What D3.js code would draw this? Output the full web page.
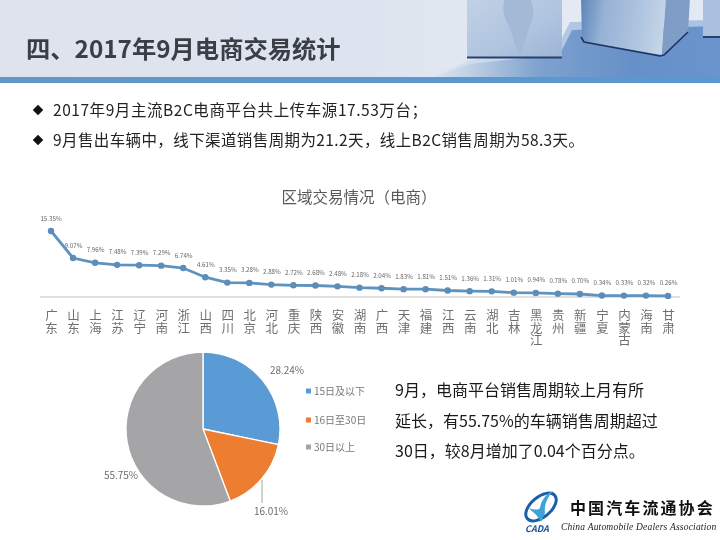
<!DOCTYPE html>
<html>
<head>
<meta charset="utf-8">
<script src="https://cdn.jsdelivr.net/npm/d3@7/dist/d3.min.js"></script>
<style>
html, body { margin: 0; padding: 0; background: #fff; }
svg { display: block; filter: blur(0.35px); }
text { font-family: "Noto Sans CJK SC", "Noto Sans", sans-serif; }
</style>
</head>
<body>
<div id="chart"></div>
<script>
var provinces = ["广东","山东","上海","江苏","辽宁","河南","浙江","山西","四川","北京","河北","重庆","陕西","安徽","湖南","广西","天津","福建","江西","云南","湖北","吉林","黑龙江","贵州","新疆","宁夏","内蒙古","海南","甘肃"];
var shares = [15.35,9.07,7.96,7.48,7.39,7.29,6.74,4.61,3.35,3.28,2.88,2.72,2.68,2.48,2.18,2.04,1.83,1.81,1.51,1.36,1.31,1.01,0.94,0.78,0.70,0.34,0.33,0.32,0.26];
var cycleNames = ["15日及以下","16日至30日","30日以上"];
var cycleValues = [28.24,16.01,55.75];
var cycleColors = ["#5b9bd5","#ed7d31","#a5a4a6"];
var bullets = ["2017年9月主流B2C电商平台共上传车源17.53万台；","9月售出车辆中，线下渠道销售周期为21.2天，线上B2C销售周期为58.3天。"];
var notes = ["9月，电商平台销售周期较上月有所","延长，有55.75%的车辆销售周期超过","30日，较8月增加了0.04个百分点。"];

var svg = d3.select("#chart").append("svg")
	.attr("width", 720)
	.attr("height", 540);
var defs = svg.append("defs");

drawHeader();
drawBullets();
drawLineChart();
drawPie();
drawNotes();
drawLogo();

function addGradient(id, x2, y2, stops) {
	var g = defs.append("linearGradient")
		.attr("id", id)
		.attr("x1", 0).attr("y1", 0)
		.attr("x2", x2).attr("y2", y2);
	stops.forEach(function(s){
		g.append("stop").attr("offset", s[0]).attr("stop-color", s[1]);
	});
}

function drawHeader() {
	addGradient("headBg", 1, 0, [[0,"#dee3ee"],[0.5,"#dee4ef"],[0.75,"#e3eaf3"],[1,"#e3e9f3"]]);
	addGradient("floorBg", 1, 0, [[0,"#dfe5ef"],[0.12,"#c3d3e6"],[0.38,"#7ea1cf"],[0.7,"#6690c8"],[1,"#6a94cb"]]);
	addGradient("boxA", 1, 1, [[0,"#c2d2e6"],[0.6,"#afc4df"],[1,"#9cb5d6"]]);
	addGradient("boxFront", 1, 0.1, [[0,"#5c85ba"],[0.3,"#97b2d5"],[0.75,"#b1c6e0"],[1,"#c4d4e8"]]);
	addGradient("bar", 1, 0, [[0,"#6098c8"],[1,"#5a98d2"]]);

	svg.append("rect").attr("width", 720).attr("height", 78).attr("fill", "url(#headBg)");

	// floor under the boxes, top edge softened by a paler layer
	svg.append("polygon")
		.attr("points", "430,78 470,60 556,50 570,22 720,20 720,78")
		.attr("fill", "url(#floorBg)")
		.attr("opacity", 0.45);
	svg.append("polygon")
		.attr("points", "430,78 470,64 560,54 572,30 720,26 720,78")
		.attr("fill", "url(#floorBg)");

	var boxes = svg.append("g");
	boxes.append("rect").attr("x", 467).attr("y", -3).attr("width", 95).attr("height", 60).attr("fill", "url(#boxA)");
	boxes.append("path")
		.attr("d", "M505,-2 C502,8 503,16 508,24 C513,34 514,46 520,54 C526,44 527,30 532,20 C535,10 532,3 530,-2 Z")
		.attr("fill", "#a3bad7");
	boxes.append("rect").attr("x", 467).attr("y", 56.5).attr("width", 95).attr("height", 2).attr("fill", "#27406c");

	boxes.append("polygon").attr("points", "581,-3 666,-3 662,55 582,41").attr("fill", "url(#boxFront)");
	boxes.append("polygon").attr("points", "666,-3 690,-3 688,32 662,55").attr("fill", "#7f9dc6");
	boxes.append("polyline")
		.attr("points", "581,37 584,42 660,56 664,55 688,32")
		.attr("fill", "none").attr("stroke", "#1f3560").attr("stroke-width", 1.6);

	boxes.append("rect").attr("x", 703).attr("y", -3).attr("width", 20).attr("height", 40).attr("fill", "#a9c1df");
	boxes.append("rect").attr("x", 703).attr("y", 36).attr("width", 20).attr("height", 2).attr("fill", "#27406c");

	svg.append("rect").attr("y", 77).attr("width", 720).attr("height", 6).attr("fill", "url(#bar)");

	svg.append("text")
		.attr("x", 26).attr("y", 58)
		.attr("font-size", 24.3)
		.attr("font-weight", 700)
		.attr("fill", "#3a3f46")
		.text("四、2017年9月电商交易统计");
}

function drawBullets() {
	var bulletWidths = [374, 531];
	var rows = svg.selectAll(".bullet").data(bullets).enter().append("g")
		.attr("class", "bullet")
		.attr("transform", function(d, i){ return "translate(0," + (110 + i * 30) + ")"; });

	rows.append("path")
		.attr("d", d3.symbol().type(d3.symbolDiamond2).size(70))
		.attr("transform", "translate(38,0)")
		.attr("fill", "#111");

	rows.append("text")
		.attr("x", 53).attr("y", 5.5)
		.attr("font-size", 15.5)
		.attr("textLength", function(d, i){ return bulletWidths[i]; })
		.attr("fill", "#222")
		.text(function(d){ return d; });
}

function drawLineChart() {
	var x = d3.scalePoint().domain(provinces).range([51, 668]);
	var y = d3.scaleLinear().domain([0, 15.35]).range([297, 231]);

	svg.append("text")
		.attr("x", 359).attr("y", 203)
		.attr("text-anchor", "middle")
		.attr("font-size", 15.5)
		.attr("fill", "#595959")
		.text("区域交易情况（电商）");

	// category axis, names run downward in vertical writing mode
	var axis = svg.append("g")
		.attr("transform", "translate(0," + y(0) + ")")
		.call(d3.axisBottom(x).tickSize(0).tickPadding(0));
	axis.select(".domain").remove();
	axis.selectAll(".tick text")
		.attr("y", 12)
		.attr("dy", null)
		.attr("text-anchor", "start")
		.attr("font-size", 12.5)
		.attr("fill", "#707070")
		.style("writing-mode", "vertical-rl")
		.style("text-orientation", "upright");

	svg.append("line")
		.attr("x1", 40).attr("x2", 680)
		.attr("y1", y(0)).attr("y2", y(0))
		.attr("stroke", "#e0e0e0")
		.attr("stroke-width", 2);

	var line = d3.line()
		.x(function(d, i){ return x(provinces[i]); })
		.y(function(d){ return y(d); });

	svg.append("path")
		.datum(shares)
		.attr("d", line)
		.attr("fill", "none")
		.attr("stroke", "#5f93bf")
		.attr("stroke-width", 2.8);

	svg.selectAll(".dot").data(shares).enter().append("circle")
		.attr("class", "dot")
		.attr("cx", function(d, i){ return x(provinces[i]); })
		.attr("cy", function(d){ return y(d); })
		.attr("r", 3.2)
		.attr("fill", "#5b8db8");

	svg.selectAll(".val").data(shares).enter().append("text")
		.attr("class", "val")
		.attr("x", function(d, i){ return x(provinces[i]) + (i > 0 ? 0.5 : 0); })
		.attr("y", function(d){ return y(d) - 10.5; })
		.attr("text-anchor", "middle")
		.attr("font-size", 6.2)
		.attr("fill", "#666")
		.text(function(d){ return d.toFixed(2) + "%"; });
}

function drawPie() {
	var pie = d3.pie().sort(null);
	var arc = d3.arc().innerRadius(0).outerRadius(77);
	var g = svg.append("g").attr("transform", "translate(203,429)");

	g.selectAll("path").data(pie(cycleValues)).enter().append("path")
		.attr("d", arc)
		.attr("fill", function(d, i){ return cycleColors[i]; })
		.attr("stroke", "#fff")
		.attr("stroke-width", 1.3);

	svg.append("line")
		.attr("x1", 262).attr("x2", 262)
		.attr("y1", 480).attr("y2", 503)
		.attr("stroke", "#a6a6a6");

	var labelAt = [[287,374],[271,515],[121,479]];
	svg.selectAll(".pieLabel").data(cycleValues).enter().append("text")
		.attr("class", "pieLabel")
		.attr("x", function(d, i){ return labelAt[i][0]; })
		.attr("y", function(d, i){ return labelAt[i][1]; })
		.attr("text-anchor", "middle")
		.attr("font-size", 10)
		.attr("fill", "#6e6e6e")
		.text(function(d){ return d.toFixed(2) + "%"; });

	var legendY = [391, 420, 447];
	var legend = svg.selectAll(".legend").data(cycleNames).enter().append("g")
		.attr("class", "legend")
		.attr("transform", function(d, i){ return "translate(305," + legendY[i] + ")"; });
	legend.append("rect")
		.attr("x", 1).attr("y", -2.5)
		.attr("width", 5).attr("height", 5)
		.attr("fill", function(d, i){ return cycleColors[i]; });
	legend.append("text")
		.attr("x", 9).attr("y", 3.5)
		.attr("font-size", 10)
		.attr("fill", "#777")
		.text(function(d){ return d; });
}

function drawNotes() {
	svg.selectAll(".note").data(notes).enter().append("text")
		.attr("class", "note")
		.attr("x", 395)
		.attr("y", function(d, i){ return 396 + i * 30.5; })
		.attr("font-size", 16)
		.attr("fill", "#1a1a1a")
		.text(function(d){ return d; });
}

function drawLogo() {
	var logo = svg.append("g");
	logo.append("ellipse")
		.attr("cx", 541).attr("cy", 507).attr("rx", 18).attr("ry", 10)
		.attr("transform", "rotate(-40 541 507)")
		.attr("fill", "none").attr("stroke", "#1a5fa8").attr("stroke-width", 3);
	logo.append("path")
		.attr("d", "M553,491 C547,498 544,505 545,513 L541,522 C537,514 532,512 529,508 C535,510 538,510 540,508 C541,500 547,493 553,491 Z")
		.attr("fill", "#3fa3d8");
	logo.append("text")
		.attr("x", 525).attr("y", 532)
		.attr("font-size", 9)
		.attr("font-weight", 700)
		.attr("font-style", "italic")
		.attr("fill", "#1a4f96")
		.text("CADA");
	logo.append("text")
		.attr("x", 570).attr("y", 514)
		.attr("font-size", 16)
		.attr("font-weight", 700)
		.attr("letter-spacing", 2.1)
		.attr("fill", "#111")
		.text("中国汽车流通协会");
	logo.append("text")
		.attr("x", 561).attr("y", 530)
		.attr("font-size", 9.5)
		.attr("font-style", "italic")
		.attr("letter-spacing", 0.2)
		.style("font-family", "'Liberation Serif', serif")
		.attr("fill", "#222")
		.text("China Automobile Dealers Association");
}
</script>
</body>
</html>
